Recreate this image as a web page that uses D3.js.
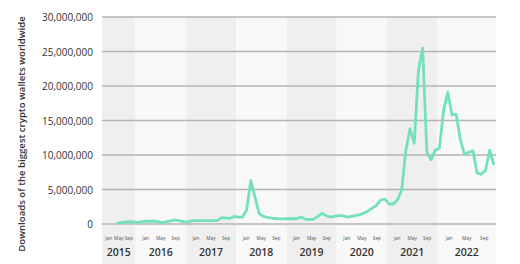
<!DOCTYPE html>
<html>
<head>
<meta charset="utf-8">
<script src="https://cdn.jsdelivr.net/npm/d3@7"></script>
<style>
  body { margin: 0; background: #fff; }
  svg text { font-family: "Open Sans", sans-serif; }
</style>
</head>
<body>
<div class="chart"></div>
<script>
// downloads per month, in millions (null = no data)
const years = [2015, 2016, 2017, 2018, 2019, 2020, 2021, 2022]
const downloads2015 = [null, null, null, 0.15, 0.2, 0.3, 0.35, 0.3]
const downloads2016 = [0.2, 0.35, 0.4, 0.4, 0.4, 0.3, 0.2, 0.35, 0.45, 0.6, 0.45, 0.35]
const downloads2017 = [0.3, 0.5, 0.5, 0.5, 0.5, 0.5, 0.5, 0.5, 0.9, 0.9, 0.8, 1.1]
const downloads2018 = [1.0, 1.0, 2.0, 6.3, 3.9, 1.5, 1.1, 0.95, 0.85, 0.8, 0.75, 0.75]
const downloads2019 = [0.8, 0.75, 0.8, 1.0, 0.7, 0.65, 0.7, 1.1, 1.55, 1.2, 1.0, 1.1]
const downloads2020 = [1.2, 1.2, 1.0, 1.1, 1.2, 1.35, 1.6, 1.9, 2.3, 2.7, 3.5, 3.6]
const downloads2021 = [2.9, 2.9, 3.5, 4.9, 10.7, 13.8, 11.7, 22.3, 25.5, 10.4, 9.3, 10.7]
const downloads2022 = [11.0, 16.5, 19.1, 15.8, 15.9, 12.2, 10.1, 10.4, 10.6, 7.4, 7.2, 7.8, 10.7, 8.55]
const series = [downloads2015, downloads2016, downloads2017, downloads2018,
                downloads2019, downloads2020, downloads2021, downloads2022]
const yTicks = [0, 5, 10, 15, 20, 25, 30]
const monthLabels = ["Jan", "May", "Sep"]
const yTitle = "Downloads of the biggest crypto wallets worldwide"

const width = 520, height = 264
const plotLeft = 102, plotRight = 496, plotTop = 17, plotBottom = 224

const points = []
years.forEach((year, yi) => {
    series[yi].forEach(v => points.push({year: year, value: v, i: points.length}))
})

const svg = d3.select("div.chart").append("svg")
    .attr("width", width)
    .attr("height", height)

const x = d3.scaleBand()
    .domain(points.map(d => d.i))
    .range([plotLeft, plotRight])

const y = d3.scaleLinear()
    .domain([0, 30])
    .range([plotBottom, plotTop])

// year bands
const bands = years.map((year, yi) => {
    const pts = points.filter(d => d.year === year)
    return {year: year, x0: x(pts[0].i), x1: x(pts[pts.length - 1].i) + x.bandwidth(), dark: yi % 2 === 0}
})

svg.selectAll(".band")
    .data(bands)
    .enter().append("rect")
    .attr("class", "band")
    .attr("x", d => d.x0)
    .attr("y", plotTop)
    .attr("width", d => d.x1 - d.x0)
    .attr("height", height - plotTop)
    .attr("fill", d => d.dark ? "#efefef" : "#f8f8f8")

// grid
svg.selectAll(".grid")
    .data(yTicks)
    .enter().append("line")
    .attr("class", "grid")
    .attr("x1", plotLeft)
    .attr("x2", plotRight)
    .attr("y1", d => y(d))
    .attr("y2", d => y(d))
    .attr("stroke", "#b4b4b4")
    .attr("stroke-width", 1.5)

const fmt = d3.format(",")
svg.selectAll(".ytick")
    .data(yTicks)
    .enter().append("text")
    .attr("class", "ytick")
    .attr("x", 93)
    .attr("y", d => y(d))
    .attr("dy", "0.4em")
    .attr("text-anchor", "end")
    .attr("font-size", 10)
    .attr("fill", "#333")
    .text(d => fmt(d * 1e6))

svg.append("text")
    .attr("transform", `translate(25,${(20 + 248) / 2}) rotate(-90)`)
    .attr("text-anchor", "middle")
    .attr("font-size", 9.6)
    .attr("font-weight", 600)
    .attr("fill", "#333")
    .text(yTitle)

// month + year labels
bands.forEach(b => {
    const m = d3.scalePoint().domain(monthLabels).range([b.x0, b.x1]).padding(0.67)
    svg.append("g").selectAll("text")
        .data(monthLabels)
        .enter().append("text")
        .attr("x", d => m(d))
        .attr("y", 240)
        .attr("text-anchor", "middle")
        .attr("font-size", 4.8)
        .attr("fill", "#555")
        .text(d => d)
    svg.append("text")
        .attr("x", (b.x0 + b.x1) / 2)
        .attr("y", 256)
        .attr("text-anchor", "middle")
        .attr("font-size", 10.5)
        .attr("font-weight", 600)
        .attr("fill", "#333")
        .text(b.year)
})

const line = d3.line()
    .defined(d => d.value != null)
    .x(d => x(d.i) + x.bandwidth() / 2)
    .y(d => y(d.value))

svg.append("path")
    .datum(points)
    .attr("d", line)
    .attr("fill", "none")
    .attr("stroke", "#74e0bc")
    .attr("stroke-width", 2.8)
    .attr("stroke-linejoin", "round")
</script>
</body>
</html>
